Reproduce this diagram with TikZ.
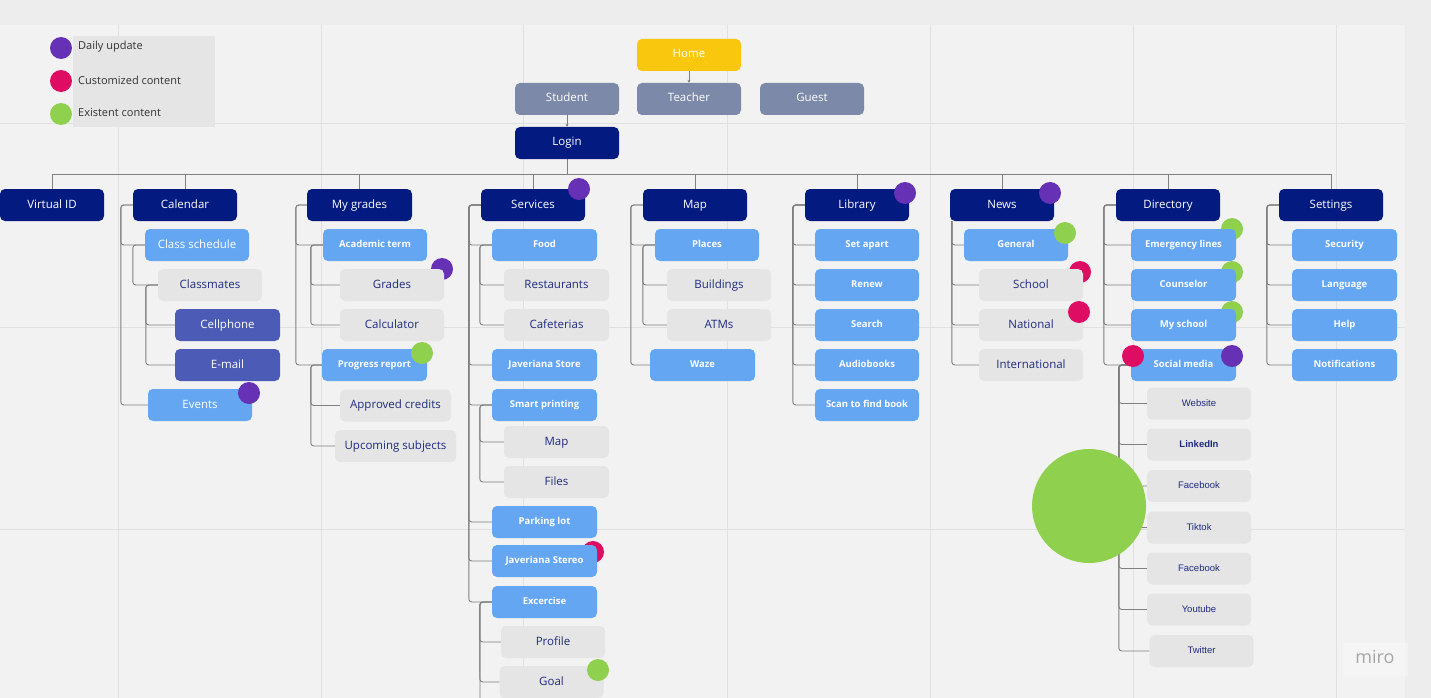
\documentclass[tikz,border=0pt]{standalone}
\usepackage{fontspec}
\setmainfont{Open Sans}
\newfontfamily\arialf{Liberation Sans}
\usetikzlibrary{arrows.meta,calc}
\definecolor{navy}{HTML}{031A80}
\definecolor{slate}{HTML}{7C89A8}
\definecolor{yel}{HTML}{FAC70F}
\definecolor{lblue}{HTML}{64A6F2}
\definecolor{gbox}{HTML}{E5E5E5}
\definecolor{indi}{HTML}{4C5BB5}
\definecolor{navytext}{HTML}{1F2A7F}
\definecolor{dpurple}{HTML}{6631B5}
\definecolor{dpink}{HTML}{DE0C63}
\definecolor{dgreen}{HTML}{8FD14F}
\definecolor{linegray}{HTML}{808080}
\definecolor{bgmain}{HTML}{F2F2F2}
\definecolor{bgband}{HTML}{EDEDED}
\definecolor{gridc}{HTML}{E0E0E0}
\definecolor{legtext}{HTML}{333333}
\pgfdeclarelayer{bg}\pgfdeclarelayer{lines}\pgfdeclarelayer{behind}\pgfdeclarelayer{fg}
\pgfsetlayers{bg,lines,behind,main,fg}
\newcommand\brc[3]{\draw[conn] (#1.west) -- ++(-#3,0) |- (#2.west);}
\tikzset{
 nbox/.style={rounded corners=5pt, minimum width=104pt, minimum height=32pt, inner sep=0pt, align=center},
 bigf/.style={font=\fontsize{11.5}{13}\selectfont, text height=8.5pt, text depth=2.5pt},
 smallf/.style={font=\fontsize{9.5}{11}\selectfont\bfseries, text height=7pt, text depth=2pt},
 navybox/.style={nbox, fill=navy, text=white, bigf},
 slatebox/.style={nbox, fill=slate, text=white, bigf},
 yelbox/.style={nbox, fill=yel, text=white, bigf},
 lbbox/.style={nbox, fill=lblue, text=white, smallf},
 lbbig/.style={nbox, fill=lblue, text=white, bigf},
 grbox/.style={nbox, fill=gbox, text=navytext, bigf},
 indbox/.style={nbox, fill=indi, text=white, bigf},
 socbox/.style={nbox, fill=gbox, text=navytext, font=\arialf\fontsize{9.5}{11}\selectfont, text height=7pt, text depth=2pt},
 conn/.style={draw=linegray, line width=0.9pt, rounded corners=3pt},
 dot/.style={circle, minimum size=22pt, inner sep=0pt},
 w5/.style={minimum width=105pt},
}
\begin{document}
\begin{tikzpicture}[x=1pt,y=-1pt]
\useasboundingbox (0,0) rectangle (1431,698);
\begin{pgfonlayer}{bg}
\fill[bgband] (0,0) rectangle (1431,698);
\fill[bgmain] (0,25) rectangle (1405,698);
\foreach \gx in {118,321,523,727,930,1133,1336} \draw[gridc, line width=1pt] (\gx,25) -- (\gx,698);
\foreach \gy in {124,327,529} \draw[gridc, line width=1pt] (0,\gy) -- (1405,\gy);
\fill[gbox] (73,36) rectangle (215,127);
\fill[white, opacity=0.3] (1343,643) rectangle (1408,676);
\end{pgfonlayer}

% legend
\node[dot, fill=dpurple] (lg1) at (61,48) {};
\node[dot, fill=dpink] (lg2) at (61,81) {};
\node[dot, fill=dgreen] (lg3) at (61,114) {};
\node[anchor=west, text=legtext, font=\fontsize{11}{13}\selectfont, inner sep=0pt] (lt1) at (78,47) {Daily update};
\node[anchor=west, text=legtext, font=\fontsize{11}{13}\selectfont, inner sep=0pt] (lt2) at (78,80) {Customized content};
\node[anchor=west, text=legtext, font=\fontsize{11}{13}\selectfont, inner sep=0pt] (lt3) at (78,113) {Existent content};

% top
\node[yelbox] (home) at (689,55) {Home};
\node[slatebox] (student) at (567,99) {Student};
\node[slatebox] (teacher) at (689,99) {Teacher};
\node[slatebox] (guest) at (812,99) {Guest};
\node[navybox] (login) at (567,143) {Login};

% level 1
\node[navybox] (vid) at (52,205) {Virtual ID};
\node[navybox] (cal) at (185,205) {Calendar};
\node[navybox, w5] (grades) at (359.5,205) {My grades};
\node[navybox] (serv) at (533,205) {Services};
\node[navybox] (map) at (695,205) {Map};
\node[navybox] (lib) at (857,205) {Library};
\node[navybox] (news) at (1002,205) {News};
\node[navybox] (dir) at (1168,205) {Directory};
\node[navybox] (set) at (1331,205) {Settings};

% calendar
\node[lbbig] (cs) at (197,245) {Class schedule};
\node[grbox] (cm) at (210,285) {Classmates};
\node[indbox, w5] (cell) at (227.5,325) {Cellphone};
\node[indbox, w5] (mail) at (227.5,365) {E-mail};
\node[lbbig] (ev) at (200,405) {Events};

% my grades
\node[lbbox] (at) at (375,245) {Academic term};
\node[grbox] (gr) at (392,285) {Grades};
\node[grbox] (calc) at (392,325) {Calculator};
\node[lbbox, w5] (pr) at (374.5,365) {Progress report};
\node[grbox, minimum width=111pt] (ac) at (395.5,405.5) {Approved credits};
\node[grbox, minimum width=121pt] (us) at (395.5,446) {Upcoming subjects};

% services
\node[lbbox, w5] (food) at (544.5,245) {Food};
\node[grbox, w5] (rest) at (556.5,285) {Restaurants};
\node[grbox, w5] (caf) at (556.5,325) {Cafeterias};
\node[lbbox, w5] (js) at (544.5,365) {Javeriana Store};
\node[lbbox, w5] (sp) at (544.5,405) {Smart printing};
\node[grbox, w5] (smap) at (556.5,442) {Map};
\node[grbox, w5] (files) at (556.5,482) {Files};
\node[lbbox, w5] (park) at (544.5,522) {Parking lot};
\node[lbbox, w5] (jst) at (544.5,561) {Javeriana Stereo};
\node[lbbox, w5] (exc) at (544.5,602) {Excercise};
\node[grbox] (prof) at (553,642) {Profile};
\node[grbox] (goal) at (551.5,682) {Goal};
\coordinate (sbot) at (480,700);

% map
\node[lbbox] (places) at (707,245) {Places};
\node[grbox] (bld) at (719,285) {Buildings};
\node[grbox] (atm) at (719,325) {ATMs};
\node[lbbox, w5] (waze) at (702.5,365) {Waze};

% library
\node[lbbox] (sa) at (867,245) {Set apart};
\node[lbbox] (ren) at (867,285) {Renew};
\node[lbbox] (sea) at (867,325) {Search};
\node[lbbox] (aud) at (867,365) {Audiobooks};
\node[lbbox] (scan) at (867,405) {Scan to find book};

% news
\node[lbbox] (gen) at (1016,245) {General};
\node[grbox] (sch) at (1031,285) {School};
\node[grbox] (nat) at (1031,325) {National};
\node[grbox] (int) at (1031,365) {International};

% directory
\node[lbbox, w5] (em) at (1183.5,245) {Emergency lines};
\node[lbbox, w5] (cou) at (1183.5,285) {Counselor};
\node[lbbox, w5] (mys) at (1183.5,325) {My school};
\node[lbbox, w5] (sm) at (1183.5,365) {Social media};
\node[socbox] (web) at (1199,403.5) {Website};
\node[socbox] (lin) at (1199,444.5) {\textbf{LinkedIn}};
\node[socbox] (fb1) at (1199,486) {Facebook};
\node[socbox] (tik) at (1199,527.5) {Tiktok};
\node[socbox] (fb2) at (1199,568.5) {Facebook};
\node[socbox] (yt) at (1199,609.5) {Youtube};
\node[socbox] (tw) at (1201.5,651) {Twitter};

% settings
\node[lbbox, w5] (sec) at (1344.5,245) {Security};
\node[lbbox, w5] (lang) at (1344.5,285) {Language};
\node[lbbox, w5] (help) at (1344.5,325) {Help};
\node[lbbox, w5] (noti) at (1344.5,365) {Notifications};

\node[text=gray!70, font=\fontsize{18}{20}\selectfont] (miro) at (1375,657) {miro};

% connectors
\begin{pgfonlayer}{lines}
\draw[linegray, line width=0.8pt, -{Stealth[length=3pt,width=3pt]}] (home.south) -- (teacher.north);
\draw[linegray, line width=0.8pt, -{Stealth[length=3pt,width=3pt]}] (student.south) -- (login.north);
\coordinate (busy) at (0,174);
\foreach \t in {vid,cal,grades,serv,map,lib,news,dir,set}
  \draw[draw=linegray, line width=0.9pt] (login.south) -- (login.south |- busy) -| (\t.north);
% calendar
\brc{cal}{cs}{12} \brc{cal}{ev}{12}
\brc{cs}{cm}{12}
\brc{cm}{cell}{12} \brc{cm}{mail}{12}
% grades
\brc{grades}{at}{11} \brc{grades}{pr}{11}
\brc{at}{gr}{12} \brc{at}{calc}{12}
\brc{pr}{ac}{11} \brc{pr}{us}{11}
% services
\foreach \c in {food,js,sp,park,jst,exc} {\brc{serv}{\c}{12}}
\brc{food}{rest}{12} \brc{food}{caf}{12}
\brc{sp}{smap}{12} \brc{sp}{files}{12}
\brc{exc}{prof}{12} \brc{exc}{goal}{12}
\draw[conn] (exc.west) -- ++(-12,0) -- (sbot);
% map
\brc{map}{places}{12} \brc{map}{waze}{12}
\brc{places}{bld}{12} \brc{places}{atm}{12}
% library
\foreach \c in {sa,ren,sea,aud,scan} {\brc{lib}{\c}{12}}
% news
\foreach \c in {gen,sch,nat,int} {\draw[conn] ([xshift=2pt]news.south west) |- (\c.west);}
% directory
\foreach \c in {em,cou,mys,sm} {\brc{dir}{\c}{12}}
\foreach \c in {web,lin,fb1,tik,fb2,yt,tw} {\brc{sm}{\c}{12}}
% settings
\foreach \c in {sec,lang,help,noti} {\brc{set}{\c}{12}}
\end{pgfonlayer}

% dots behind boxes
\begin{pgfonlayer}{behind}
\node[dot, fill=dpurple] (d1) at (442,269) {};
\node[dot, fill=dpink] (d2) at (593,552) {};
\node[dot, fill=dpink] (d3) at (1080,272) {};
\node[dot, fill=dgreen] (d4) at (1232,229) {};
\node[dot, fill=dgreen] (d5) at (1232,272) {};
\node[dot, fill=dgreen] (d6) at (1232,312) {};
\end{pgfonlayer}

% dots in front
\begin{pgfonlayer}{fg}
\node[dot, fill=dpurple] (f1) at (579,189) {};
\node[dot, fill=dpurple] (f2) at (905,193) {};
\node[dot, fill=dpurple] (f3) at (1050,193) {};
\node[dot, fill=dgreen] (f4) at (422,353) {};
\node[dot, fill=dpurple] (f5) at (249,393) {};
\node[dot, fill=dgreen] (f6) at (598,670) {};
\node[dot, fill=dgreen] (f7) at (1065,233) {};
\node[dot, fill=dpink] (f8) at (1079,312) {};
\node[dot, fill=dpurple] (f9) at (1232,356) {};
\node[dot, fill=dpink] (f10) at (1133,356) {};
\node[circle, fill=dgreen, minimum size=114pt, inner sep=0pt] (big) at (1089,506) {};
\end{pgfonlayer}
\end{tikzpicture}
\end{document}
